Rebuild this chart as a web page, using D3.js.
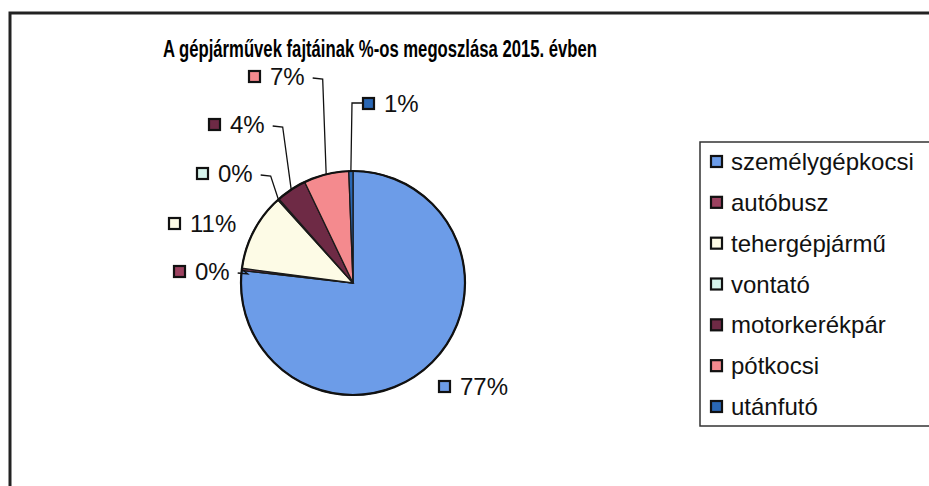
<!DOCTYPE html>
<html>
<head>
<meta charset="utf-8">
<script src="https://cdn.jsdelivr.net/npm/d3@7"></script>
<style>
  body { margin: 0; background: white; }
  text { font-family: "Liberation Sans", Arial, sans-serif; }
</style>
</head>
<body>
<div id="chart"></div>
<script>
let w = 929;
let h = 486;

// data (percent)
let categories = ["személygépkocsi", "autóbusz", "tehergépjármű", "vontató", "motorkerékpár", "pótkocsi", "utánfutó"];
let values = [76.8, 0.3, 11.2, 0.2, 4.4, 6.5, 0.6];
let labels = ["77%", "0%", "11%", "0%", "4%", "7%", "1%"];
let colors = ["#6c9ce8", "#9c4260", "#fdfbe6", "#d6f4ec", "#6e2a45", "#f48a8e", "#2a67b4"];

// where excel put the data labels (text baseline start), and if a leader is drawn
let labelPos = [[460, 395], [195, 280], [190, 232], [218, 182], [230, 133], [270, 85], [384, 112]];
let hasLeader = [false, true, false, true, true, true, true];

let cx = 353;
let cy = 283;
let r = 112;

let svg = d3.select("#chart").append("svg")
  .attr("width", w)
  .attr("height", h);

// outer frame (only top and left are visible in the scan)
svg.append("path")
  .attr("d", "M10," + h + " L10,13 L" + w + ",13")
  .attr("fill", "none")
  .attr("stroke", "#222")
  .attr("stroke-width", 3);

svg.append("text")
  .attr("x", 380)
  .attr("y", 57)
  .attr("text-anchor", "middle")
  .attr("font-weight", "bold")
  .attr("font-size", "23px")
  .attr("textLength", 434)
  .attr("lengthAdjust", "spacingAndGlyphs")
  .text("A gépjárművek fajtáinak %-os megoszlása 2015. évben");

let pie = d3.pie().sort(null).value(d => d);
let arcs = pie(values);
let arcMaker = d3.arc().innerRadius(0).outerRadius(r);

let pieGroup = svg.append("g").attr("transform", "translate(" + cx + "," + cy + ")");

pieGroup.selectAll(".slice").data(arcs).enter()
  .append("path")
  .attr("class", "slice")
  .attr("d", arcMaker)
  .attr("fill", (d, i) => colors[i])
  .attr("stroke", "#1a1a1a")
  .attr("stroke-width", 1.3);

pieGroup.append("circle")
  .attr("r", r)
  .attr("fill", "none")
  .attr("stroke", "#111")
  .attr("stroke-width", 2.2);

// data labels
let labelGroup = svg.append("g");

arcs.forEach((d, i) => {
  let [lx, ly] = labelPos[i];
  let mid = (d.startAngle + d.endAngle) / 2;
  let ex = cx + r * Math.sin(mid);
  let ey = cy - r * Math.cos(mid);

  let txt = labelGroup.append("text")
    .attr("x", lx)
    .attr("y", ly)
    .attr("font-size", "24px")
    .attr("fill", "#111")
    .text(labels[i]);

  if (hasLeader[i]) {
    let path;
    if (ex > lx) {
      // label sits left of the point
      let x0 = lx + txt.node().getComputedTextLength() + 8;
      path = "M" + x0 + "," + (ly - 7) + " L" + (x0 + 10) + "," + (ly - 6) + " L" + ex + "," + ey;
    } else {
      let x0 = lx - 22;
      path = "M" + x0 + "," + (ly - 9) + " L" + (x0 - 10) + "," + (ly - 9) + " L" + ex + "," + ey;
    }
    labelGroup.append("path")
      .attr("d", path)
      .attr("fill", "none")
      .attr("stroke", "#111")
      .attr("stroke-width", 1.3);
  }

  labelGroup.append("rect")
    .attr("x", lx - 21)
    .attr("y", ly - 14)
    .attr("width", 11)
    .attr("height", 11)
    .attr("fill", colors[i])
    .attr("stroke", "#111")
    .attr("stroke-width", 2.2);
});

// legend
let legend = svg.append("g");

legend.append("rect")
  .attr("x", 700)
  .attr("y", 142)
  .attr("width", 240)
  .attr("height", 284)
  .attr("fill", "white")
  .attr("stroke", "#333")
  .attr("stroke-width", 1.5);

let legendY = d3.scalePoint().domain(categories).range([162, 407]);

let items = legend.selectAll(".item").data(categories).enter()
  .append("g")
  .attr("class", "item")
  .attr("transform", d => "translate(0," + legendY(d) + ")");

items.append("rect")
  .attr("x", 711)
  .attr("y", -6)
  .attr("width", 11)
  .attr("height", 11)
  .attr("fill", (d, i) => colors[i])
  .attr("stroke", "#111")
  .attr("stroke-width", 2.2);

items.append("text")
  .attr("x", 731)
  .attr("y", 8)
  .attr("font-size", "24px")
  .attr("fill", "#111")
  .text(d => d);
</script>
</body>
</html>
